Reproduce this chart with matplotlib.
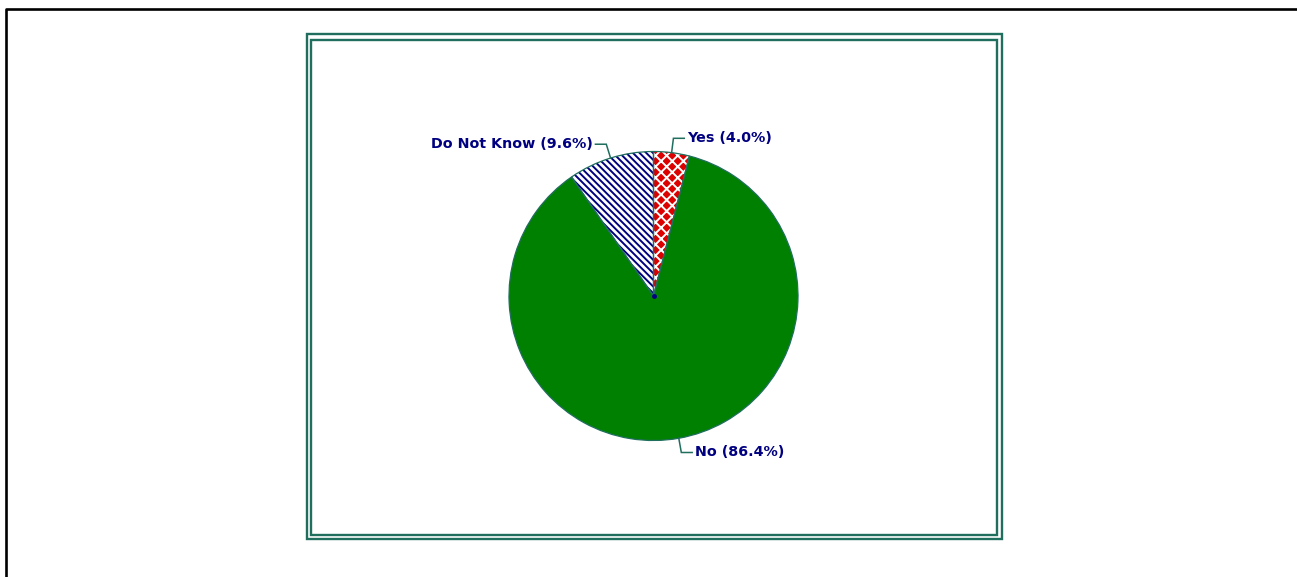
import numpy as np
import matplotlib
matplotlib.use("Agg")
import matplotlib.pyplot as plt
from matplotlib.lines import Line2D
from matplotlib.patches import Rectangle

# data
labels = ["Yes", "No", "Do Not Know"]
shares = [4.0, 86.4, 9.6]

W, H = 1297, 577
NAVY = "#000080"
TEAL = "#206e5e"
GREEN = "#008000"
RED = "#dd0000"

plt.rcParams["hatch.linewidth"] = 1.4

fig = plt.figure(figsize=(W / 100, H / 100), dpi=100)
fig.patch.set_facecolor("white")


def fx(x):
    return x / W


def fy(y):
    return 1 - y / H


# outer black border (left and top)
fig.add_artist(Line2D([fx(6), fx(6), fx(W)], [fy(H), fy(9), fy(9)],
                      transform=fig.transFigure, color="black", lw=1.9))

# double teal frame
for x0, y0, x1, y1 in [(307, 34, 1002, 539), (311, 40, 997, 535)]:
    fig.add_artist(Rectangle((fx(x0), fy(y1)), fx(x1) - fx(x0), fy(y0) - fy(y1),
                             transform=fig.transFigure, fill=False,
                             edgecolor=TEAL, lw=1.7))

# pie axes: centre (653.5, 296) px, radius 144.5 px
r_px = 144.5
cx, cy = 653.5, 296
aw, ah = 600, 400
ax = fig.add_axes([fx(cx - aw / 2), fy(cy + ah / 2), aw / W, ah / H])

wedges, _ = ax.pie(shares, startangle=90, counterclock=False, radius=1,
                   colors=[RED, GREEN, "white"],
                   wedgeprops=dict(linewidth=0))
wedges[0].set_edgecolor("white")
wedges[0].set_hatch("xxx")
wedges[0].set_linewidth(0)
wedges[2].set_edgecolor(NAVY)
wedges[2].set_hatch("\\" * 5)
wedges[2].set_linewidth(0)

# outlines
ax.pie(shares, startangle=90, counterclock=False, radius=1,
       wedgeprops=dict(fill=False, edgecolor=TEAL, linewidth=0.9))
ax.plot([0], [0], marker="o", ms=2.5, color=NAVY)

# labels with elbow leaders
for w, lab, val in zip(wedges, labels, shares):
    ang = np.deg2rad((w.theta1 + w.theta2) / 2)
    x1, y1 = np.cos(ang), np.sin(ang)
    x2, y2 = 1.1 * x1, 1.1 * y1
    side = 1 if x1 >= 0 else -1
    x3 = x2 + side * 0.075
    ax.plot([x1, x2, x3], [y1, y2, y2], color=TEAL, lw=1.1, solid_joinstyle="miter")
    ax.text(x3 + side * 0.02, y2, f"{lab} ({val:.1f}%)", color=NAVY,
            fontsize=10.3, fontweight="bold", ha="left" if side > 0 else "right",
            va="center")

# pie() resets the limits, so set them afterwards
ax.set_xlim(-aw / 2 / r_px, aw / 2 / r_px)
ax.set_ylim(-ah / 2 / r_px, ah / 2 / r_px)
ax.set_aspect("equal")
ax.axis("off")

fig.savefig("out.png", dpi=100)
